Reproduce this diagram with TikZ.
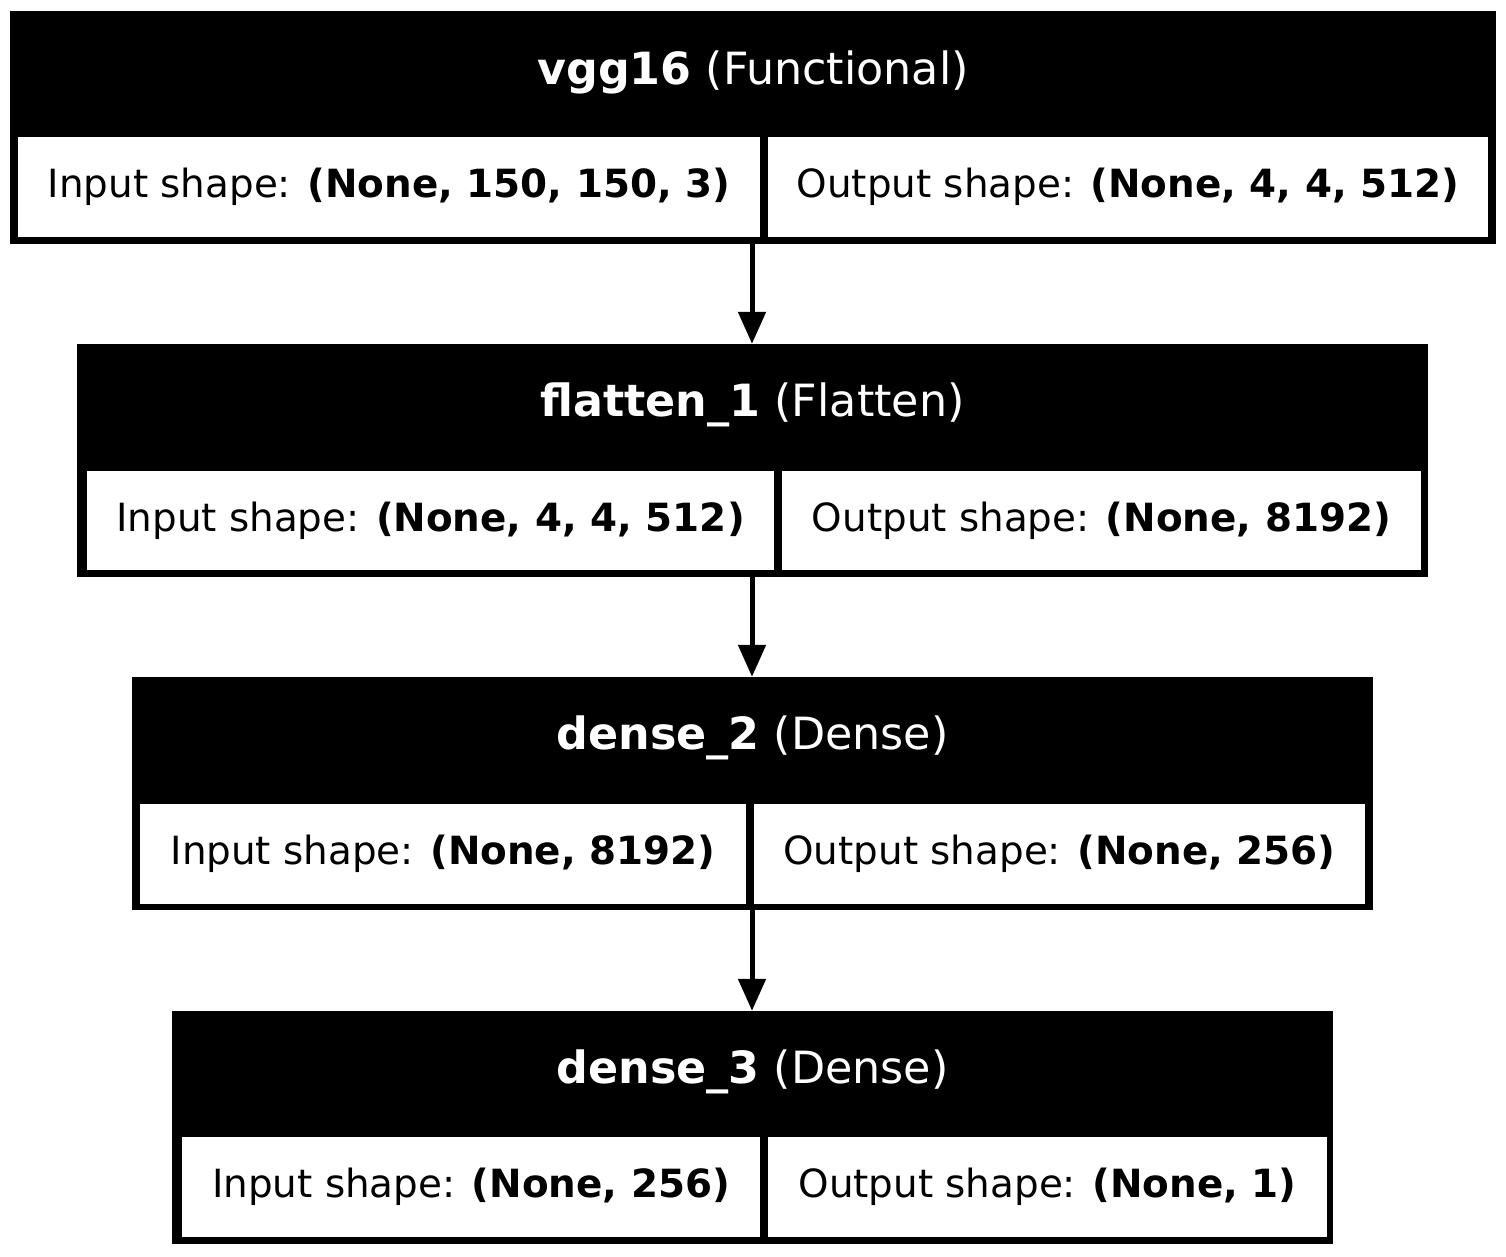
\documentclass[tikz,border=0pt]{standalone}
\usepackage{fontspec}
\setmainfont{DejaVu Sans}
\usetikzlibrary{arrows.meta}
\begin{document}
\begin{tikzpicture}[x=1pt,y=-1pt,
  outerbox/.style={fill=black,draw=none,inner sep=0pt,minimum height=233pt},
  cellbox/.style={fill=white,draw=none,inner sep=0pt,minimum height=100pt,
    font=\fontsize{38.85pt}{46pt}\selectfont},
  headtext/.style={text=white,inner sep=0pt,font=\fontsize{44.4pt}{52pt}\selectfont},
  arr/.style={line width=5pt,-{Triangle[width=27pt,length=32pt]}}]
\useasboundingbox[fill=white] (0,0) rectangle (1506,1256);
% box 1
\node[outerbox,minimum width=1486pt] (b1) at (753,127.5) {};
\node[headtext] (b1h) at (753,72) {\textbf{vgg16} (Functional)};
\node[cellbox,minimum width=742pt] (b1i) at (389,187) {Input shape: \textbf{(None, 150, 150, 3)}};
\node[cellbox,minimum width=720pt] (b1o) at (1128,187) {Output shape: \textbf{(None, 4, 4, 512)}};
% box 2
\node[outerbox,minimum width=1351pt] (b2) at (752.5,460.5) {};
\node[headtext] (b2h) at (752.5,405) {\textbf{flatten\_1} (Flatten)};
\node[cellbox,minimum width=687pt,minimum height=99pt] (b2i) at (430.5,520.5) {Input shape: \textbf{(None, 4, 4, 512)}};
\node[cellbox,minimum width=639pt,minimum height=99pt] (b2o) at (1101.5,520.5) {Output shape: \textbf{(None, 8192)}};
% box 3
\node[outerbox,minimum width=1241pt] (b3) at (752.5,793.5) {};
\node[headtext] (b3h) at (752.5,738) {\textbf{dense\_2} (Dense)};
\node[cellbox,minimum width=606pt] (b3i) at (443,854) {Input shape: \textbf{(None, 8192)}};
\node[cellbox,minimum width=611pt] (b3o) at (1059.5,854) {Output shape: \textbf{(None, 256)}};
% box 4
\node[outerbox,minimum width=1161pt] (b4) at (752.5,1127.5) {};
\node[headtext] (b4h) at (752.5,1072) {\textbf{dense\_3} (Dense)};
\node[cellbox,minimum width=578pt] (b4i) at (471,1187) {Input shape: \textbf{(None, 256)}};
\node[cellbox,minimum width=559pt] (b4o) at (1047.5,1187) {Output shape: \textbf{(None, 1)}};
% arrows
\coordinate (a1) at (752,244);
\coordinate (a2) at (752,577);
\coordinate (a3) at (752,910);
\draw[arr] (a1) -- (a1 |- b2.north);
\draw[arr] (a2) -- (a2 |- b3.north);
\draw[arr] (a3) -- (a3 |- b4.north);
\end{tikzpicture}
\end{document}
